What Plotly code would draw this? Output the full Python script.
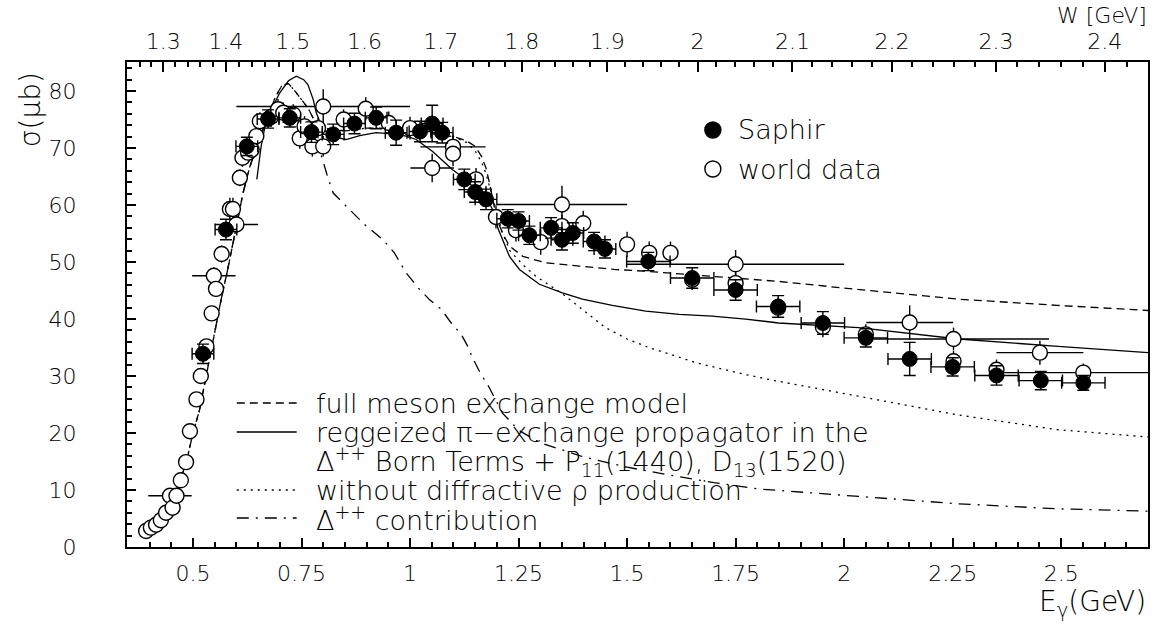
import numpy as np
import plotly.graph_objects as go

FONT = "DejaVu Sans"
WEIGHT = 200
M_P = 0.938272

# ---------------- data ----------------
saphir_E = [0.523, 0.576, 0.624, 0.673, 0.723, 0.773, 0.823, 0.872, 0.922, 0.968,
            1.023, 1.051, 1.074, 1.125, 1.150, 1.175, 1.225, 1.250, 1.275, 1.325,
            1.350, 1.375, 1.424, 1.449, 1.549, 1.650, 1.750, 1.848, 1.951, 2.050,
            2.151, 2.250, 2.351, 2.453, 2.551]
saphir_sigma = [33.9, 55.7, 70.3, 75.1, 75.3, 72.8, 72.4, 74.3, 75.3, 72.7,
                72.9, 74.3, 72.7, 64.5, 62.3, 61.0, 57.6, 57.2, 54.7, 56.0,
                53.9, 55.1, 53.6, 52.3, 50.1, 47.2, 45.1, 42.2, 39.3, 36.7,
                33.0, 31.6, 30.1, 29.2, 28.8]
saphir_dE = [0.025] * 24 + [0.05] * 11
saphir_dsigma = [1.7, 1.8, 1.6, 1.6, 1.6, 1.8, 1.8, 1.8, 1.9, 2.2,
                 1.8, 3.2, 1.8, 1.8, 1.8, 1.8, 1.6, 1.6, 1.6, 1.8,
                 1.8, 1.8, 1.6, 1.6, 1.6, 1.8, 1.8, 1.9, 2.0, 1.6,
                 2.9, 1.6, 1.7, 1.6, 1.3]

world_E = [0.392, 0.403, 0.415, 0.426, 0.438, 0.447, 0.453, 0.462, 0.472, 0.484,
           0.493, 0.508, 0.518, 0.531, 0.543, 0.548, 0.553, 0.566, 0.585, 0.592,
           0.600, 0.608, 0.614, 0.627, 0.635, 0.646, 0.654, 0.680, 0.696, 0.708,
           0.731, 0.746, 0.757, 0.775, 0.788, 0.800, 0.800, 0.847, 0.898, 0.951,
           1.000, 1.051, 1.099, 1.099, 1.152, 1.198, 1.244, 1.301, 1.350, 1.350,
           1.399, 1.500, 1.551, 1.600, 1.650, 1.750, 1.750, 1.848, 1.951, 2.050,
           2.151, 2.252, 2.252, 2.351, 2.451, 2.551]
world_sigma = [2.8, 3.4, 3.9, 4.7, 6.0, 9.0, 6.9, 9.0, 11.7, 14.9,
               20.3, 25.9, 30.0, 35.2, 41.0, 47.6, 45.3, 51.4, 59.3, 59.3,
               56.6, 64.8, 68.3, 69.2, 69.7, 72.1, 74.7, 75.5, 76.8, 76.2,
               75.9, 71.7, 73.8, 70.3, 73.5, 70.3, 77.3, 75.0, 76.9, 74.4,
               73.5, 66.5, 70.2, 69.0, 64.5, 57.9, 55.6, 53.5, 60.1, 56.3,
               56.8, 53.1, 51.6, 51.6, 46.9, 49.6, 46.3, 42.0, 38.6, 37.3,
               39.4, 36.5, 32.6, 31.1, 34.1, 30.6]
world_dE = [0, 0, 0, 0, 0, 0.05, 0, 0, 0, 0,
            0, 0, 0, 0, 0, 0.05, 0, 0, 0, 0,
            0.05, 0, 0, 0, 0, 0, 0, 0, 0, 0,
            0, 0, 0, 0, 0, 0, 0.2, 0, 0, 0,
            0, 0.05, 0.075, 0, 0, 0, 0, 0, 0.15, 0,
            0, 0, 0, 0, 0, 0.25, 0, 0, 0, 0,
            0.1, 0.22, 0, 0, 0.1, 0.2]
world_dsigma = [0.3, 0.3, 0.3, 0.4, 0.4, 0.5, 0.5, 0.5, 0.6, 0.8,
                0.9, 1.0, 1.0, 1.2, 1.3, 1.5, 1.4, 1.5, 2.0, 2.0,
                1.6, 1.5, 1.6, 1.6, 1.6, 1.6, 1.6, 1.8, 1.8, 1.8,
                1.8, 1.8, 1.8, 1.8, 1.8, 1.8, 3.0, 1.8, 2.0, 2.0,
                2.0, 2.5, 2.2, 2.2, 2.0, 2.0, 2.0, 2.2, 3.3, 2.0,
                2.2, 2.2, 2.0, 2.0, 1.8, 2.5, 1.8, 1.8, 1.8, 1.8,
                3.0, 2.0, 1.8, 1.8, 2.1, 1.6]

full_E = [0.38, 0.40, 0.44, 0.47, 0.485, 0.50, 0.515, 0.53, 0.55, 0.565,
          0.58, 0.60, 0.615, 0.63, 0.65, 0.67, 0.69, 0.705, 0.72, 0.735,
          0.75, 0.765, 0.78, 0.80, 0.85, 0.90, 0.95, 1.00, 1.05, 1.10,
          1.13, 1.15, 1.165, 1.175, 1.183, 1.19, 1.20, 1.213, 1.229, 1.26,
          1.31, 1.39, 1.47, 1.54, 1.70, 1.85, 2.03, 2.26, 2.49, 2.70]
full_sigma = [2.0, 3.0, 6.5, 11.5, 15.0, 20.0, 24.0, 30.0, 38.0, 43.5,
              48.7, 56.0, 62.0, 66.5, 71.0, 75.0, 79.0, 81.0, 81.3, 80.0,
              78.5, 77.0, 74.8, 73.5, 73.0, 73.5, 73.5, 73.0, 72.5, 72.0,
              71.3, 70.3, 68.5, 66.5, 63.9, 61.0, 57.5, 55.1, 52.8, 51.0,
              49.9, 49.3, 48.7, 48.4, 47.5, 46.6, 45.2, 43.5, 42.4, 41.5]

regge_E = [0.647, 0.652, 0.657, 0.665, 0.681, 0.700, 0.72, 0.738, 0.755, 0.765,
           0.777, 0.784, 0.795, 0.815, 0.853, 0.884, 0.922, 0.957, 0.991, 1.014,
           1.052, 1.098, 1.129, 1.175, 1.198, 1.202, 1.210, 1.229, 1.252, 1.298,
           1.351, 1.397, 1.466, 1.543, 1.62, 1.696, 1.773, 1.849, 2.033, 2.263,
           2.493, 2.70]
regge_sigma = [64.5, 68.0, 70.3, 73.5, 76.8, 79.7, 81.8, 82.6, 82.0, 81.1,
               78.5, 76.2, 74.1, 72.1, 71.5, 72.2, 72.7, 72.5, 72.1, 71.5,
               69.4, 66.2, 64.5, 61.5, 58.0, 56.0, 54.5, 51.0, 48.7, 46.1,
               44.6, 43.5, 42.4, 41.4, 40.8, 40.5, 40.0, 39.3, 38.5, 36.5,
               35.2, 34.1]

nodiff_E = [0.38, 0.40, 0.44, 0.47, 0.485, 0.50, 0.515, 0.53, 0.55, 0.565,
            0.58, 0.60, 0.615, 0.63, 0.65, 0.67, 0.69, 0.705, 0.72, 0.735,
            0.75, 0.765, 0.78, 0.80, 0.85, 0.90, 0.95, 1.00, 1.05, 1.10,
            1.13, 1.15, 1.165, 1.175, 1.183, 1.20, 1.213, 1.23, 1.26, 1.29,
            1.35, 1.40, 1.45, 1.50, 1.55, 1.60, 1.66, 1.77, 1.84, 2.03,
            2.26, 2.49, 2.70]
nodiff_sigma = [2.0, 3.0, 6.5, 11.5, 15.0, 20.0, 24.0, 30.0, 38.0, 43.5,
                48.7, 56.0, 62.0, 66.5, 71.0, 75.0, 79.0, 81.0, 81.3, 80.0,
                78.5, 77.0, 74.8, 73.5, 73.0, 73.5, 73.5, 73.0, 72.5, 72.0,
                71.0, 69.5, 67.5, 65.5, 63.3, 58.5, 55.1, 52.0, 49.5, 47.5,
                44.5, 41.5, 38.5, 36.5, 35.0, 33.8, 32.3, 30.3, 29.2, 26.5,
                23.2, 20.6, 19.3]

delta_E = [0.38, 0.40, 0.44, 0.47, 0.485, 0.50, 0.515, 0.53, 0.55, 0.565,
           0.58, 0.60, 0.615, 0.63, 0.65, 0.67, 0.69, 0.71, 0.73, 0.755,
           0.78, 0.796, 0.81, 0.823, 0.853, 0.899, 0.911, 0.938, 0.964, 0.991,
           1.022, 1.045, 1.072, 1.095, 1.118, 1.133, 1.144, 1.160, 1.183, 1.213,
           1.25, 1.30, 1.40, 1.50, 1.60, 1.70, 1.80, 2.03, 2.26, 2.49, 2.70]
delta_sigma = [2.0, 3.0, 6.5, 11.5, 15.0, 20.0, 24.0, 30.0, 38.0, 43.5,
               48.7, 56.0, 62.0, 66.5, 71.0, 75.0, 76.5, 77.0, 76.0, 73.5,
               70.5, 68.6, 65.0, 62.1, 59.8, 56.3, 55.6, 53.9, 51.6, 48.1,
               45.2, 43.4, 41.7, 39.3, 37.3, 35.2, 33.2, 30.8, 27.9, 23.5,
               20.5, 18.3, 15.8, 14.0, 12.6, 11.3, 10.2, 8.9, 7.6, 6.7, 6.3]

E_tickvals = [0.5, 0.75, 1.0, 1.25, 1.5, 1.75, 2.0, 2.25, 2.5]
E_ticktext = ["0.5", "0.75", "1", "1.25", "1.5", "1.75", "2", "2.25", "2.5"]
sigma_tickvals = [0, 10, 20, 30, 40, 50, 60, 70, 80]
sigma_ticktext = ["0", "10", "20", "30", "40", "50", "60", "70", "80"]
W_major = [1.3, 1.4, 1.5, 1.6, 1.7, 1.8, 1.9, 2.0, 2.1, 2.2, 2.3, 2.4]
W_ticktext = ["1.3", "1.4", "1.5", "1.6", "1.7", "1.8", "1.9", "2", "2.1", "2.2", "2.3", "2.4"]
W_minor = [round(1.24 + 0.02 * i, 2) for i in range(60)]

legend_lines = ["full meson exchange model",
                "reggeized π−exchange propagator in the",
                "Δ<sup>++</sup> Born Terms + P<sub>11</sub>(1440), D<sub>13</sub>(1520)",
                "without diffractive ρ production",
                "Δ<sup>++</sup> contribution"]

# ---------------- geometry ----------------
W_PX, H_PX = 1158, 628
L, R, T, B = 127, 1150, 62, 547
X_RANGE = [0.348, 2.70]
Y_RANGE = [0.0, 85.1]


def E_of_W(w):
    return (w * w - M_P * M_P) / (2 * M_P)


def px(xp):
    return (xp - L) / (R - L)


def py(yp):
    return (B - yp) / (B - T)


def fnt(size):
    return dict(family=FONT, size=size, color="black", weight=WEIGHT)


fig = go.Figure()

line_w = 1.3
fig.add_trace(go.Scatter(x=full_E, y=full_sigma, mode="lines",
                         line=dict(color="black", width=line_w, dash="8px,5px"),
                         showlegend=False))
fig.add_trace(go.Scatter(x=regge_E, y=regge_sigma, mode="lines",
                         line=dict(color="black", width=line_w),
                         showlegend=False))
fig.add_trace(go.Scatter(x=nodiff_E, y=nodiff_sigma, mode="lines",
                         line=dict(color="black", width=line_w, dash="2px,5px"),
                         showlegend=False))
fig.add_trace(go.Scatter(x=delta_E, y=delta_sigma, mode="lines",
                         line=dict(color="black", width=line_w, dash="12px,7px,2px,7px"),
                         showlegend=False))

fig.add_trace(go.Scatter(
    x=world_E, y=world_sigma, mode="markers",
    marker=dict(symbol="circle", size=15, color="white",
                line=dict(color="black", width=1.4)),
    error_x=dict(type="data", array=world_dE, color="black", thickness=1.4, width=0),
    error_y=dict(type="data", array=world_dsigma, color="black", thickness=1.4, width=0),
    showlegend=False))

fig.add_trace(go.Scatter(
    x=saphir_E, y=saphir_sigma, mode="markers",
    marker=dict(symbol="circle", size=15, color="black",
                line=dict(color="black", width=1)),
    error_x=dict(type="data", array=saphir_dE, color="black", thickness=1.4, width=6),
    error_y=dict(type="data", array=saphir_dsigma, color="black", thickness=1.4, width=6),
    showlegend=False))

# invisible trace so the top (W) axis is rendered
fig.add_trace(go.Scatter(x=[X_RANGE[0]], y=[0], xaxis="x2", mode="markers",
                         marker=dict(opacity=0), showlegend=False, hoverinfo="skip"))

tick_font = fnt(22)

fig.update_layout(
    width=W_PX, height=H_PX,
    margin=dict(l=L, r=W_PX - R, t=T, b=H_PX - B),
    paper_bgcolor="white", plot_bgcolor="white",
    font=dict(family=FONT, color="black"),
    xaxis=dict(range=X_RANGE, showgrid=False, zeroline=False,
               showline=True, linecolor="black", linewidth=2, mirror=True,
               tickmode="array", tickvals=E_tickvals, ticktext=E_ticktext,
               ticks="inside", ticklen=9, tickwidth=1.5, tickcolor="black",
               ticklabelstandoff=6,
               minor=dict(dtick=0.05, tick0=0, ticks="inside", ticklen=5,
                          tickwidth=1.5, tickcolor="black", showgrid=False),
               tickfont=tick_font),
    xaxis2=dict(range=X_RANGE, overlaying="x", side="top", anchor="y",
                showgrid=False, zeroline=False, showline=False,
                tickmode="array", tickvals=[E_of_W(w) for w in W_major],
                ticktext=W_ticktext,
                ticks="inside", ticklen=10, tickwidth=1.5, tickcolor="black",
                ticklabelstandoff=8,
                minor=dict(tickvals=[E_of_W(w) for w in W_minor], ticks="inside",
                           ticklen=5, tickwidth=1.5, tickcolor="black", showgrid=False),
                tickfont=tick_font),
    yaxis=dict(range=Y_RANGE, showgrid=False, zeroline=False,
               showline=True, linecolor="black", linewidth=2, mirror=True,
               tickmode="array", tickvals=sigma_tickvals, ticktext=sigma_ticktext,
               ticks="inside", ticklen=9, tickwidth=1.5, tickcolor="black",
               ticklabelstandoff=44,
               minor=dict(dtick=2, tick0=0, ticks="inside", ticklen=5,
                          tickwidth=1.5, tickcolor="black", showgrid=False),
               tickfont=tick_font),
)

annotations = []
shapes = []

# axis titles
annotations.append(dict(text="σ(μb)", xref="paper", yref="paper",
                        x=px(30), y=py(110), xanchor="center", yanchor="middle",
                        textangle=-90, showarrow=False, font=fnt(28)))
annotations.append(dict(text="E<sub>γ</sub>(GeV)", xref="paper", yref="paper",
                        x=px(1150), y=py(603), xanchor="right", yanchor="middle",
                        showarrow=False, font=fnt(28)))
annotations.append(dict(text="W [GeV]", xref="paper", yref="paper",
                        x=px(1151), y=py(16), xanchor="right", yanchor="middle",
                        showarrow=False, font=fnt(22)))

# upper legend (markers)
for yy, fill, label in [(130, "black", "Saphir"), (169, "white", "world data")]:
    shapes.append(dict(type="circle", xref="paper", yref="paper",
                       xsizemode="pixel", ysizemode="pixel",
                       xanchor=px(714), yanchor=py(yy),
                       x0=-8, x1=8, y0=-8, y1=8,
                       fillcolor=fill, line=dict(color="black", width=1.4)))
    annotations.append(dict(text=label, xref="paper", yref="paper",
                            x=px(737), y=py(yy), xanchor="left", yanchor="middle",
                            showarrow=False, font=fnt(27)))

# lower legend (curves)
row_y = [403, 432, 461, 490, 518]
dashes = ["8px,5px", "solid", None, "2px,5px", "12px,7px,2px,7px"]
for i, (yy, txt) in enumerate(zip(row_y, legend_lines)):
    if dashes[i] is not None:
        shapes.append(dict(type="line", xref="paper", yref="paper",
                           x0=px(237), x1=px(297), y0=py(yy), y1=py(yy),
                           line=dict(color="black", width=1.3, dash=dashes[i])))
    annotations.append(dict(text=txt, xref="paper", yref="paper",
                            x=px(314), y=py(yy), xanchor="left", yanchor="middle",
                            showarrow=False, font=fnt(27)))

fig.update_layout(annotations=annotations, shapes=shapes)

fig.write_html("out.html")
